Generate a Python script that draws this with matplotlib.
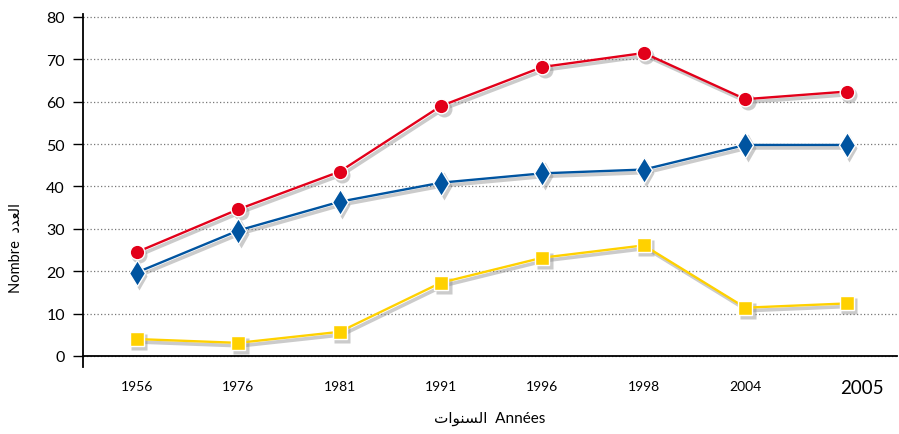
import matplotlib

matplotlib.use("Agg")
import matplotlib.pyplot as plt
from matplotlib.transforms import ScaledTranslation

years = ["1956", "1976", "1981", "1991", "1996", "1998", "2004", "2005"]
red_values = [24.5, 34.6, 43.5, 59.0, 68.2, 71.5, 60.6, 62.4]
blue_values = [19.7, 29.6, 36.4, 40.9, 43.1, 44.0, 49.8, 49.8]
yellow_values = [4.0, 3.1, 5.7, 17.3, 23.2, 26.1, 11.4, 12.4]
y_ticks = [0, 10, 20, 30, 40, 50, 60, 70, 80]

# Arabic in presentation forms, visual order (matplotlib does no shaping)
ar_years = "\uFE95\uFE8D\uFEEE\uFEE8\uFEB4\uFEDF\uFE8D"   # السنوات
ar_number = "\uFEA9\uFEAA\uFECC\uFEDF\uFE8D"              # العدد

FONT = ["Lato", "DejaVu Sans"]
plt.rcParams["font.family"] = FONT

fig = plt.figure(figsize=(8.99, 4.35), dpi=100)
ax = fig.add_axes([0.0923, 0.154, 0.906, 0.8115])

x = list(range(len(years)))
shift = ax.transData + ScaledTranslation(2.5 / 100, -3 / 100, fig.dpi_scale_trans)

series = [
    (red_values, "#e2001a", "o", 10.5),
    (blue_values, "#0054a0", "d", 13),
    (yellow_values, "#ffd100", "s", 10),
]
for values, color, marker, size in series:
    # soft drop shadow
    ax.plot(x, values, color="#8c8c8c", alpha=0.45, lw=2.6, marker=marker, ms=size + 1,
            mec="none", transform=shift, zorder=2)
    ax.plot(x, values, color=color, lw=1.7, marker=marker, ms=size,
            mec="white", mew=1.0, zorder=3)

ax.set_xlim(-0.53, 7.5)
ax.set_ylim(-2.6, 80.7)
ax.set_yticks(y_ticks)
ax.set_yticklabels([str(t) for t in y_ticks], fontsize=11.5)
ax.set_xticks(x)
ax.set_xticklabels(years, fontsize=10.5)

ax.yaxis.grid(True, linestyle=(0, (1, 1.8)), color="#777777", lw=0.9)
ax.set_axisbelow(True)

for side in ("top", "right"):
    ax.spines[side].set_visible(False)
ax.spines["bottom"].set_position(("data", 0))
ax.spines["left"].set_linewidth(1.3)
ax.spines["bottom"].set_linewidth(1.3)
ax.tick_params(axis="y", length=7, width=1, direction="out", pad=6)
ax.tick_params(axis="x", length=0, pad=17)

last = ax.get_xticklabels()[-1]
last.set_fontsize(13.5)
last.set_transform(last.get_transform() + ScaledTranslation(15 / 100, 1 / 100, fig.dpi_scale_trans))

fig.text(0.545, 0.038, ar_years + "  Ann\u00e9es", ha="center", va="center", fontsize=11, family=FONT)
fig.text(0.018, 0.43, "Nombre  " + ar_number, ha="center", va="center", rotation=90, fontsize=10.5, family=FONT)

fig.savefig("out.png", dpi=100)
